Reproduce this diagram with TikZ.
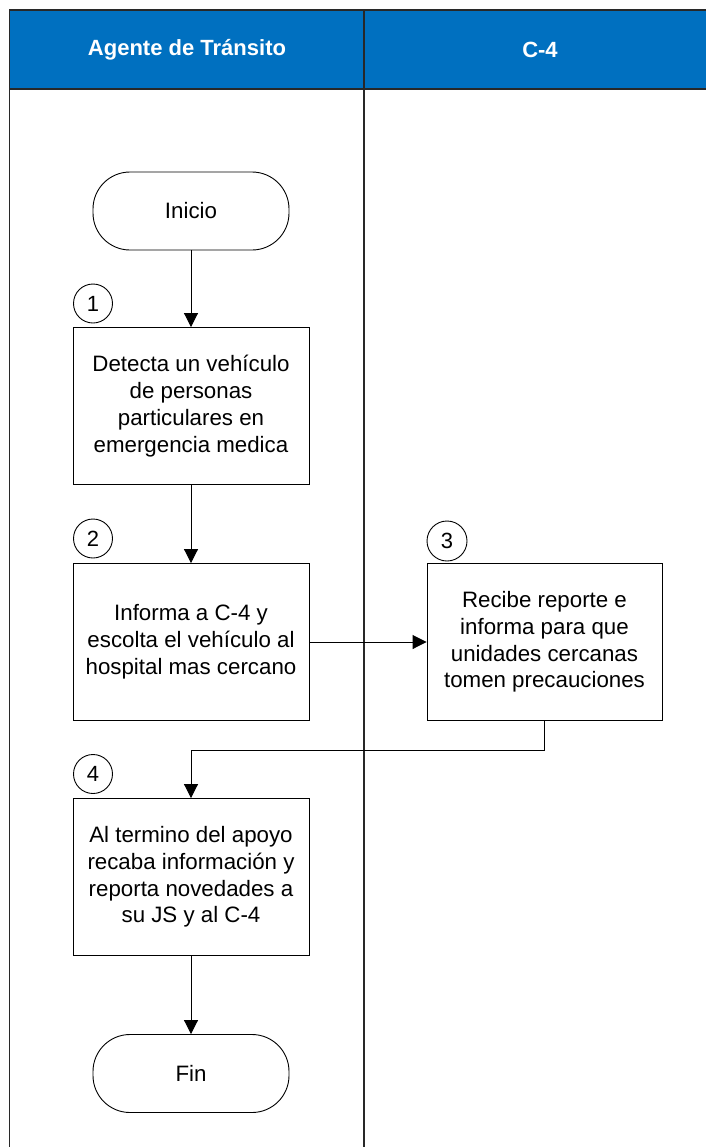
\documentclass[tikz,border=0pt]{standalone}
\usepackage{fontspec}
\setmainfont{Liberation Sans}
\usetikzlibrary{arrows.meta,shapes.geometric}
\definecolor{hdrblue}{RGB}{0,112,192}
\definecolor{laneline}{RGB}{40,40,40}
\tikzset{
  lane/.style={draw=laneline,line width=1.3bp},
  hdrtext/.style={text=white,font=\fontsize{22bp}{26bp}\selectfont\bfseries},
  proc/.style={draw,line width=0.9bp,minimum width=236bp,minimum height=157bp,align=center,inner sep=0pt,
    font=\fontsize{22.3bp}{26.8bp}\selectfont},
  term/.style={draw,line width=0.9bp,minimum width=196bp,minimum height=78bp,rounded corners=37bp,inner sep=0pt,
    font=\fontsize{22.3bp}{26.8bp}\selectfont},
  num/.style={draw,circle,line width=0.9bp,inner sep=0pt,minimum size=39bp,
    font=\fontsize{22bp}{24bp}\selectfont},
  arr/.style={line width=0.9bp,-{Triangle[width=14bp,length=14bp]}},
  conn/.style={line width=0.9bp}
}
\begin{document}
\begin{tikzpicture}[x=1bp,y=-1bp]
\clip (0,0) rectangle (706,1147);
\fill[white] (0,0) rectangle (706,1147);
% swimlane header
\fill[hdrblue] (9.5,10) rectangle (730,89);
\draw[lane] (730,10) -- (9.5,10) -- (9.5,1160);
\draw[lane] (9.5,89) -- (730,89);
\draw[lane] (364,10) -- (364,1160);
\node[hdrtext] (h1) at (187,50) {Agente de Tránsito};
\node[hdrtext] (h2) at (540,50) {C-4};
% nodes
\node[term] (ini) at (191,211) {Inicio};
\node[proc] (b1) at (191,406) {Detecta un vehículo\\de personas\\particulares en\\emergencia medica};
\node[num] (n1) at (93,303.5) {1};
\node[proc] (b2) at (191,642) {Informa a C-4 y\\escolta el vehículo al\\hospital mas cercano};
\node[num] (n2) at (93,538.5) {2};
\node[proc,minimum width=235bp] (b3) at (544.5,642) {Recibe reporte e\\informa para que\\unidades cercanas\\tomen precauciones};
\node[num,minimum size=40bp] (n3) at (447,541) {3};
\node[proc] (b4) at (191,877) {Al termino del apoyo\\recaba información y\\reporta novedades a\\su JS y al C-4};
\node[num] (n4) at (93,774) {4};
\node[term] (fin) at (191,1073.5) {Fin};
\coordinate (m) at (0,750);
% connectors
\draw[arr] (ini) -- (b1);
\draw[arr] (b1) -- (b2);
\draw[arr] (b2.east) -- (b2.east -| b3.west);
\draw[arr] (b3.south) -- (b3.south |- m) -| (b4.north);
\draw[arr] (b4) -- (fin);
\end{tikzpicture}
\end{document}
